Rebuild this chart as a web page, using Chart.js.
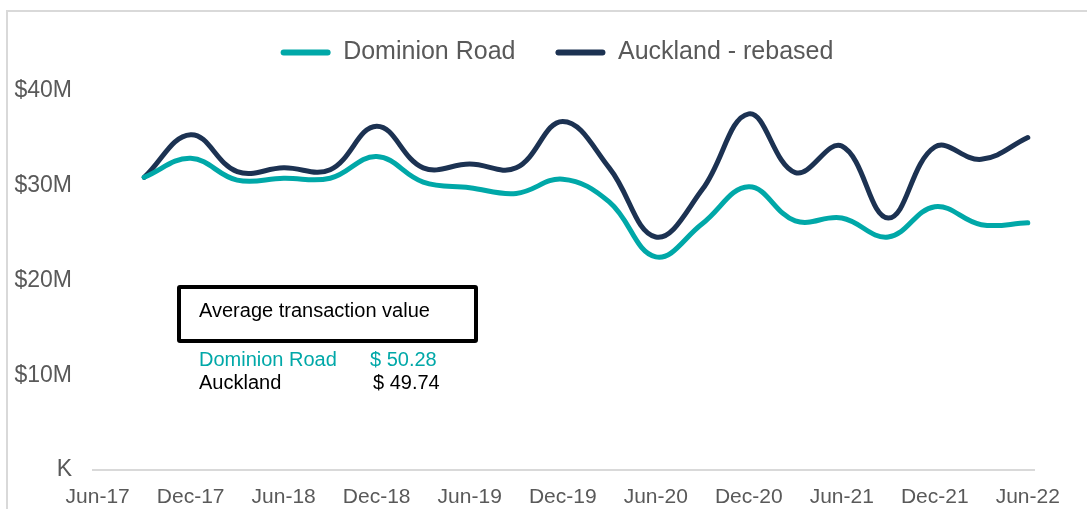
<!DOCTYPE html>
<html>
<head>
<meta charset="utf-8">
<script src="https://cdn.jsdelivr.net/npm/chart.js@4"></script>
<style>
  body { margin: 0; background: #fff; font-family: "Liberation Sans", Arial, sans-serif; }
  #wrap { position: relative; width: 1087px; height: 509px; overflow: hidden; }
  #frame { position: absolute; left: 6px; top: 10px; width: 1200px; height: 600px;
    border-left: 2px solid #d9d9d9; border-top: 2px solid #d9d9d9; pointer-events: none; }
  #avgBox { position: absolute; left: 177px; top: 285px; width: 293px; height: 50px;
    border: 4px solid #000; border-radius: 3px; background: #fff; }
  .txt { position: absolute; font-size: 20px; line-height: 20px; white-space: nowrap; }
</style>
</head>
<body>
<div id="wrap">
  <canvas id="lineChart" width="1087" height="509"></canvas>
  <div id="frame"></div>
  <div id="avgBox"></div>
  <div class="txt" id="avgTitle" style="left:199px; top:300px; color:#000"></div>
  <div class="txt" id="domName" style="left:199px; top:349px; color:#00a8a8"></div>
  <div class="txt" id="domVal" style="left:370px; top:349px; color:#00a8a8"></div>
  <div class="txt" id="aklName" style="left:199px; top:372px; color:#000"></div>
  <div class="txt" id="aklVal" style="left:373px; top:372px; color:#000"></div>
</div>
<script>
// quarterly totals, $M
const quarters = [
  "Sep-17", "Dec-17", "Mar-18", "Jun-18", "Sep-18", "Dec-18", "Mar-19",
  "Jun-19", "Sep-19", "Dec-19", "Mar-20", "Jun-20", "Sep-20", "Dec-20",
  "Mar-21", "Jun-21", "Sep-21", "Dec-21", "Mar-22", "Jun-22",
];
const dominionRoad = [
  30.9, 32.9, 30.6, 30.8, 30.8, 33.1, 30.4, 29.8, 29.2, 30.7,
  28.3, 22.5, 26.0, 29.9, 26.3, 26.6, 24.6, 27.8, 25.9, 26.1,
];
const aucklandRebased = [
  30.9, 35.4, 31.5, 31.9, 31.7, 36.3, 31.9, 32.3, 31.9, 36.8,
  31.9, 24.6, 29.6, 37.6, 31.4, 34.2, 26.6, 34.1, 32.8, 35.1,
];
const xTickLabels = [
  "Jun-17", "Dec-17", "Jun-18", "Dec-18", "Jun-19", "Dec-19",
  "Jun-20", "Dec-20", "Jun-21", "Dec-21", "Jun-22",
];
const yTickLabels = ["K", "$10M", "$20M", "$30M", "$40M"];

const avgTitle = "Average transaction value";
const avgNames = ["Dominion Road", "Auckland"];
const avgValues = ["$ 50.28", "$ 49.74"];

document.getElementById("avgTitle").textContent = avgTitle;
document.getElementById("domName").textContent = avgNames[0];
document.getElementById("domVal").textContent = avgValues[0];
document.getElementById("aklName").textContent = avgNames[1];
document.getElementById("aklVal").textContent = avgValues[1];

const months = ["Jan","Feb","Mar","Apr","May","Jun","Jul","Aug","Sep","Oct","Nov","Dec"];
// months since Jun-17
const monthOffset = (label) => {
  const [m, y] = label.split("-");
  return (Number(y) - 17) * 12 + months.indexOf(m) - 5;
};
const toPoints = (values) => values.map((v, i) => ({ x: monthOffset(quarters[i]), y: v }));

const TEAL = "#00a8a8";
const NAVY = "#1c3252";
const GREY = "#595959";

// legend sits a bit right of centre in the original
const shiftLegend = {
  id: "shiftLegend",
  afterLayout: (chart) => {
    chart.legend.left += 80;
  },
};

const ctx = document.getElementById("lineChart").getContext("2d");
const lineChart = new Chart(ctx, {
  type: "line",
  data: {
    datasets: [
      {
        label: "Dominion Road",
        data: toPoints(dominionRoad),
        borderColor: TEAL,
        backgroundColor: TEAL,
        borderWidth: 5,
      },
      {
        label: "Auckland - rebased",
        data: toPoints(aucklandRebased),
        borderColor: NAVY,
        backgroundColor: NAVY,
        borderWidth: 5,
      },
    ],
  },
  plugins: [shiftLegend],
  options: {
    responsive: false,
    animation: false,
    layout: { padding: { top: 0, right: 53, left: 0, bottom: 0 } },
    elements: {
      point: { radius: 0 },
      line: { tension: 0.4, borderCapStyle: "round", borderJoinStyle: "round" },
    },
    plugins: {
      tooltip: { enabled: false },
      legend: {
        position: "top",
        labels: {
          color: GREY,
          font: { family: "Liberation Sans", size: 25 },
          boxWidth: 50,
          boxHeight: 6,
          padding: 40,
          useBorderRadius: true,
          borderRadius: 3,
          generateLabels: (chart) =>
            Chart.defaults.plugins.legend.labels
              .generateLabels(chart)
              .map((item) => ({ ...item, lineWidth: 0 })),
        },
      },
    },
    scales: {
      x: {
        type: "linear",
        min: -0.3,
        max: 60.4,
        grid: { display: false, drawTicks: false },
        border: { display: true, color: "#d9d9d9", width: 2 },
        afterBuildTicks: (axis) => {
          axis.ticks = xTickLabels.map((l, i) => ({ value: i * 6 }));
        },
        afterFit: (axis) => {
          axis.height = 39;
        },
        ticks: {
          color: GREY,
          font: { family: "Liberation Sans", size: 21 },
          padding: 15,
          maxRotation: 0,
          autoSkip: false,
          callback: (value) => xTickLabels[Math.round(value / 6)],
        },
      },
      y: {
        min: 0,
        max: 41.7,
        grid: { display: false, drawTicks: false },
        border: { display: false },
        afterBuildTicks: (axis) => {
          axis.ticks = yTickLabels.map((l, i) => ({ value: i * 10 }));
        },
        afterFit: (axis) => {
          axis.width = 93;
        },
        ticks: {
          color: GREY,
          font: { family: "Liberation Sans", size: 23 },
          padding: 21,
          callback: (value) => yTickLabels[Math.round(value / 10)],
        },
      },
    },
  },
});
</script>
</body>
</html>
